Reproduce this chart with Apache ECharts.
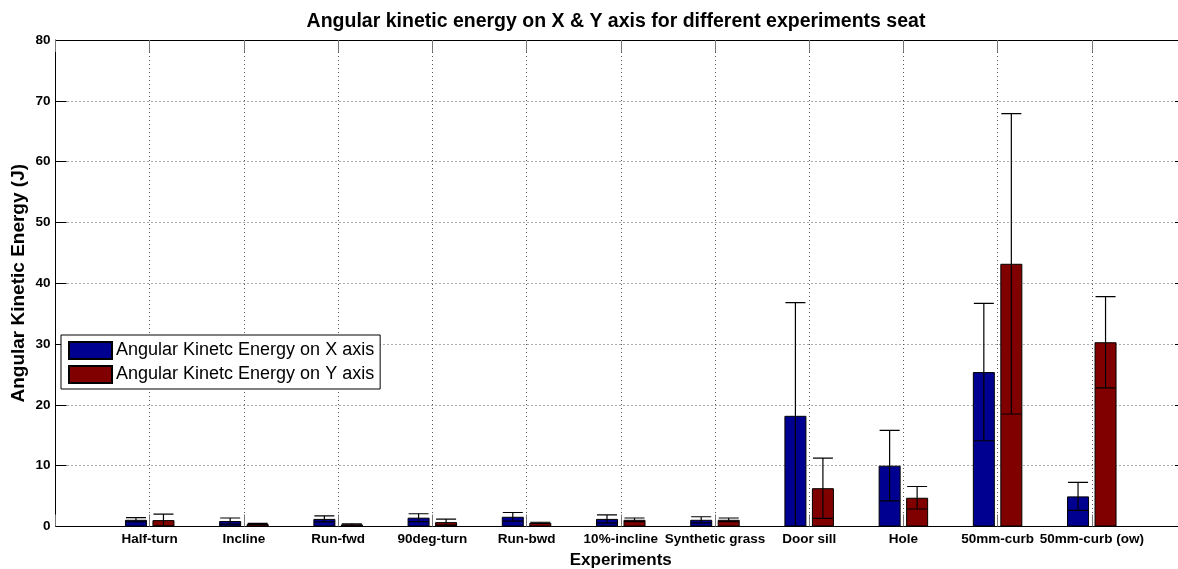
<!DOCTYPE html>
<html>
<head>
<meta charset="utf-8">
<script src="https://cdn.jsdelivr.net/npm/echarts@6/dist/echarts.min.js"></script>
<style>html,body{margin:0;padding:0;background:#fff;}#chart{width:1178px;height:569px;}</style>
</head>
<body>
<div id="chart"></div>
<script>
// ---- data ----
const categories = ['Half-turn','Incline','Run-fwd','90deg-turn','Run-bwd','10%-incline','Synthetic grass','Door sill','Hole','50mm-curb','50mm-curb (ow)'];
const xEnergy = [1.1, 0.9, 1.25, 1.45, 1.6, 1.25, 1.1, 18.2, 10.0, 25.4, 4.95];
const xEnergyErr = [0.35, 0.5, 0.5, 0.65, 0.7, 0.65, 0.5, 18.6, 5.8, 11.3, 2.3];
const yEnergy = [1.05, 0.4, 0.35, 0.72, 0.6, 1.1, 1.1, 6.3, 4.73, 43.2, 30.3];
const yEnergyErr = [1.0, 0.1, 0.1, 0.5, 0.1, 0.3, 0.3, 4.95, 1.85, 24.7, 7.5];
const yTicks = [0, 10, 20, 30, 40, 50, 60, 70, 80];
const seriesNames = ['Angular Kinetc Energy on X axis', 'Angular Kinetc Energy on Y axis'];

const FONT = '"Liberation Sans", Arial, sans-serif';
const chart = echarts.init(document.getElementById('chart'), null, {renderer: 'canvas'});

function barData(vals) { return vals.map((v, i) => [i + 1, v]); }
function errData(vals, errs) { return vals.map((v, i) => [i + 1, v, errs[i]]); }

function errRender(offset) {
  return function (params, api) {
    const x = api.value(0), v = api.value(1), e = api.value(2);
    const top = api.coord([x, v + e]);
    const bot = api.coord([x, v - e]);
    const cx = top[0] + offset;
    const hw = 10;
    const style = {stroke: '#000', lineWidth: 1.2};
    return {
      type: 'group',
      children: [
        {type: 'line', shape: {x1: cx, y1: top[1], x2: cx, y2: bot[1]}, style: style},
        {type: 'line', shape: {x1: cx - hw, y1: top[1], x2: cx + hw, y2: top[1]}, style: style},
        {type: 'line', shape: {x1: cx - hw, y1: bot[1], x2: cx + hw, y2: bot[1]}, style: style}
      ]
    };
  };
}

const splitLine = {show: true, lineStyle: {color: '#555', type: [1, 3], width: 1}};

const option = {
  animation: false,
  backgroundColor: '#fff',
  title: {
    text: 'Angular kinetic energy on X & Y axis for different experiments seat',
    left: 611, top: 7, textAlign: 'center',
    textStyle: {fontFamily: FONT, fontWeight: 'bold', fontSize: 19.5, color: '#000'}
  },
  legend: {
    orient: 'vertical', left: 61, top: 335,
    data: seriesNames,
    itemWidth: 43, itemHeight: 17, itemGap: 5,
    padding: [6, 6, 5, 7],
    borderColor: '#000', borderWidth: 1, backgroundColor: '#fff',
    textStyle: {fontFamily: FONT, fontSize: 18, color: '#000', padding: [0, 0, 0, -1]},
    icon: 'rect'
  },
  grid: {left: 55.5, right: -8, top: 40, bottom: 42.5, containLabel: false, outerBoundsMode: 'none'},
  xAxis: [{
    type: 'value', min: 0, max: 12, interval: 1,
    name: 'Experiments', nameLocation: 'middle', nameGap: 23,
    nameTextStyle: {fontFamily: FONT, fontWeight: 'bold', fontSize: 17, color: '#000'},
    axisLine: {show: true, onZero: false, lineStyle: {color: '#000', width: 1}},
    axisTick: {show: true, inside: true, length: 12, lineStyle: {color: '#777'}},
    axisLabel: {
      show: true, margin: 6, fontFamily: FONT, fontWeight: 'bold', fontSize: 13.5, color: '#000',
      showMinLabel: true, showMaxLabel: true, hideOverlap: false,
      formatter: v => categories[v - 1] || ''
    },
    splitLine: splitLine
  }, {
    type: 'value', min: 0, max: 12, interval: 1, position: 'top',
    axisLine: {show: true, onZero: false, lineStyle: {color: '#000', width: 1}},
    axisTick: {show: true, inside: true, length: 12, lineStyle: {color: '#777'}},
    axisLabel: {show: false}, splitLine: {show: false}
  }],
  yAxis: [{
    type: 'value', min: 0, max: 80, interval: 10,
    name: 'Angular Kinetic Energy (J)', nameLocation: 'middle', nameGap: 27, nameRotate: 90,
    nameMoveOverlap: false,
    nameTextStyle: {fontFamily: FONT, fontWeight: 'bold', fontSize: 19, color: '#000'},
    axisLine: {show: true, onZero: false, lineStyle: {color: '#000', width: 1}},
    axisTick: {show: true, inside: true, length: 11, lineStyle: {color: '#000'}},
    axisLabel: {
      margin: 5, fontFamily: FONT, fontWeight: 'bold', fontSize: 13.5, color: '#000',
      formatter: v => yTicks.includes(v) ? String(v) : ''
    },
    splitLine: splitLine
  }, {
    type: 'value', min: 0, max: 80, interval: 10, position: 'right',
    axisLine: {show: true, onZero: false, lineStyle: {color: '#000', width: 1}},
    axisTick: {show: true, inside: true, length: 11, lineStyle: {color: '#000'}},
    axisLabel: {show: false}, splitLine: {show: false}
  }],
  series: [
    {
      name: seriesNames[0], type: 'bar', xAxisIndex: 0, yAxisIndex: 0,
      data: barData(xEnergy), barWidth: 22, barGap: '25%',
      itemStyle: {color: '#000090', borderColor: '#000', borderWidth: 1}
    },
    {
      name: seriesNames[1], type: 'bar', xAxisIndex: 0, yAxisIndex: 0,
      data: barData(yEnergy), barWidth: 22, barGap: '25%',
      itemStyle: {color: '#800000', borderColor: '#000', borderWidth: 1}
    },
    {
      name: 'errX', type: 'custom', xAxisIndex: 0, yAxisIndex: 0, clip: true, z: 5,
      renderItem: errRender(-13.75), data: errData(xEnergy, xEnergyErr)
    },
    {
      name: 'errY', type: 'custom', xAxisIndex: 0, yAxisIndex: 0, clip: true, z: 5,
      renderItem: errRender(13.75), data: errData(yEnergy, yEnergyErr)
    }
  ]
};
chart.setOption(option);
</script>
</body>
</html>
